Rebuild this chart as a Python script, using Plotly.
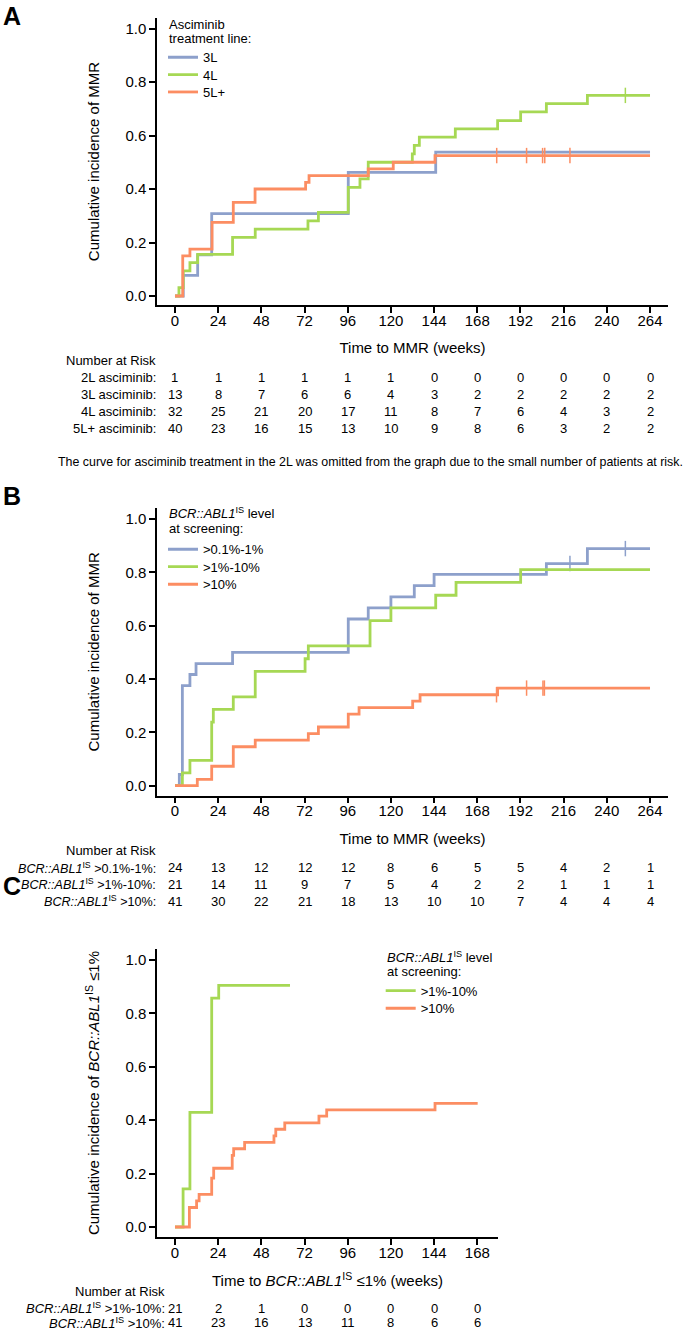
import plotly.graph_objects as go

FONT = "Arial, Liberation Sans, Helvetica, sans-serif"
W, H = 685, 1331
BLUE, GREEN, ORANGE = "#8DA0CB", "#A6D854", "#FC8D62"

# ---------------- Panel A: asciminib treatment line (time to MMR, weeks)
a_3l_t = [4.6, 12.6, 20.4, 96.3, 144.9]
a_3l_v = [0.077, 0.154, 0.308, 0.462, 0.538]
a_3l_cens = []
a_4l_t = [2.2, 4.6, 8.3, 12.6, 32.0, 44.6, 73.9, 79.7, 96.3, 102.8, 107.4,
          131.9, 133.0, 135.8, 155.8, 179.3, 192.1, 206.4, 229.2]
a_4l_v = [0.031, 0.094, 0.125, 0.156, 0.219, 0.25, 0.281, 0.313, 0.406, 0.438, 0.5,
          0.531, 0.563, 0.594, 0.625, 0.656, 0.688, 0.719, 0.75]
a_4l_cens = [250.3]
a_5l_t = [4.3, 8.3, 20.6, 32.4, 44.5, 72.6, 74.5, 107.4, 121.3, 144.5]
a_5l_v = [0.15, 0.175, 0.275, 0.35, 0.4, 0.425, 0.45, 0.475, 0.5, 0.525]
a_5l_cens = [178.8, 195.4, 204.3, 205.5, 219.5]
a_end = 264
a_ticks = [0, 24, 48, 72, 96, 120, 144, 168, 192, 216, 240, 264]
a_risk_labels = ["2L asciminib:", "3L asciminib:", "4L asciminib:", "5L+ asciminib:"]
a_risk = [
    [1, 1, 1, 1, 1, 1, 0, 0, 0, 0, 0, 0],
    [13, 8, 7, 6, 6, 4, 3, 2, 2, 2, 2, 2],
    [32, 25, 21, 20, 17, 11, 8, 7, 6, 4, 3, 2],
    [40, 23, 16, 15, 13, 10, 9, 8, 6, 3, 2, 2],
]

# ---------------- Panel B: BCR::ABL1 level at screening (time to MMR, weeks)
b_low_t = [2.4, 4.1, 8.3, 11.7, 32.0, 96.3, 107.4, 120.0, 133.0, 144.0, 206.4, 229.2]
b_low_v = [0.042, 0.375, 0.417, 0.458, 0.5, 0.625, 0.667, 0.708, 0.75, 0.792, 0.833, 0.889]
b_low_cens = [219.5, 250.3]
b_mid_t = [4.1, 8.3, 20.4, 21.3, 32.4, 44.6, 72.3, 74.1, 108.4, 120.0, 144.9, 156.2, 192.1]
b_mid_v = [0.048, 0.095, 0.238, 0.286, 0.333, 0.429, 0.476, 0.524, 0.619, 0.667, 0.714, 0.762, 0.81]
b_mid_cens = []
b_high_t = [12.4, 20.4, 32.4, 44.6, 74.1, 79.7, 96.3, 102.3, 132.1, 136.2, 179.3]
b_high_v = [0.024, 0.073, 0.146, 0.171, 0.195, 0.22, 0.268, 0.293, 0.317, 0.341, 0.366]
b_high_cens = [178.7, 195.4, 204.5, 205.3]
b_end = 264
b_ticks = a_ticks
b_risk_labels = ["<i>BCR::ABL1</i><sup>IS</sup> >0.1%-1%:",
                 "<i>BCR::ABL1</i><sup>IS</sup> >1%-10%:",
                 "<i>BCR::ABL1</i><sup>IS</sup> >10%:"]
b_risk = [
    [24, 13, 12, 12, 12, 8, 6, 5, 5, 4, 2, 1],
    [21, 14, 11, 9, 7, 5, 4, 2, 2, 1, 1, 1],
    [41, 30, 22, 21, 18, 13, 10, 10, 7, 4, 4, 4],
]

# ---------------- Panel C: time to BCR::ABL1 <= 1% (weeks)
c_mid_t = [4.5, 8.3, 20.4, 24.3]
c_mid_v = [0.143, 0.429, 0.857, 0.905]
c_mid_end = 63.9
c_high_t = [8.0, 12.0, 13.4, 20.4, 21.5, 31.8, 32.6, 38.7, 55.0, 56.0, 61.0, 80.0, 84.3, 144.5]
c_high_v = [0.073, 0.098, 0.122, 0.183, 0.22, 0.268, 0.293, 0.317, 0.341, 0.366, 0.39, 0.415, 0.439, 0.463]
c_high_end = 168.2
c_ticks = [0, 24, 48, 72, 96, 120, 144, 168]
c_risk_labels = ["<i>BCR::ABL1</i><sup>IS</sup> >1%-10%:",
                 "<i>BCR::ABL1</i><sup>IS</sup> >10%:"]
c_risk = [
    [21, 2, 1, 0, 0, 0, 0, 0],
    [41, 23, 16, 13, 11, 8, 6, 6],
]

y_ticks = [0.0, 0.2, 0.4, 0.6, 0.8, 1.0]


def px_x(p):
    return p / W


def px_y(p):
    return 1 - p / H


def value_at(t, v, c):
    val = 0
    for ti, vi in zip(t, v):
        if ti <= c:
            val = vi
    return val


fig = go.Figure()

series = [
    # name, times, values, end, censor, color, xaxis, yaxis, legend, (line start px, center px)
    ("3L", a_3l_t, a_3l_v, a_end, a_3l_cens, BLUE, "x", "y", "legend", (168, 57.3)),
    ("4L", a_4l_t, a_4l_v, a_end, a_4l_cens, GREEN, "x", "y", "legend2", (168, 74.7)),
    ("5L+", a_5l_t, a_5l_v, a_end, a_5l_cens, ORANGE, "x", "y", "legend3", (168, 92.0)),
    (">0.1%-1%", b_low_t, b_low_v, b_end, b_low_cens, BLUE, "x2", "y2", "legend4", (168, 549.3)),
    (">1%-10%", b_mid_t, b_mid_v, b_end, b_mid_cens, GREEN, "x2", "y2", "legend5", (168, 566.7)),
    (">10%", b_high_t, b_high_v, b_end, b_high_cens, ORANGE, "x2", "y2", "legend6", (168, 584.3)),
    (">1%-10%", c_mid_t, c_mid_v, c_mid_end, [], GREEN, "x3", "y3", "legend7", (385.7, 990.7)),
    (">10%", c_high_t, c_high_v, c_high_end, [], ORANGE, "x3", "y3", "legend8", (385.7, 1008.3)),
]

legend_layouts = {}
for name, t, v, end, cens, color, xa, ya, lg, (lx, ly) in series:
    xs = [0] + list(t) + [end]
    ys = [0] + list(v) + [v[-1]]
    fig.add_trace(go.Scatter(
        x=xs, y=ys, mode="lines", line=dict(color=color, width=2.8, shape="hv"),
        name=name, xaxis=xa, yaxis=ya, legend=lg, showlegend=True,
    ))
    if cens:
        fig.add_trace(go.Scatter(
            x=cens, y=[value_at(t, v, c) for c in cens], mode="markers",
            marker=dict(symbol="line-ns-open", size=11, color=color,
                        line=dict(color=color, width=1.5)),
            xaxis=xa, yaxis=ya, showlegend=False, hoverinfo="skip",
        ))
    legend_layouts[lg] = dict(
        x=px_x(lx - 5), y=px_y(ly), xanchor="left", yanchor="middle",
        bgcolor="rgba(0,0,0,0)", borderwidth=0, itemwidth=30,
        font=dict(family=FONT, size=13, color="black"),
    )

axis_common = dict(
    showline=True, linecolor="black", linewidth=1.5, ticks="outside", ticklen=6,
    tickwidth=1.5, tickcolor="black", showgrid=False, zeroline=False, automargin=False,
    tickfont=dict(family=FONT, size=15, color="black"), mirror=False,
)
x_common = dict(axis_common, ticklabelstandoff=-5)
title_font = dict(family=FONT, size=15, color="black")

layout = dict(
    width=W, height=H, autosize=False,
    margin=dict(l=0, r=0, t=0, b=0),
    paper_bgcolor="white", plot_bgcolor="white",
    font=dict(family=FONT, color="black"),
    xaxis=dict(x_common, domain=[px_x(157), px_x(668)], range=[-10, 274.0],
               tickvals=a_ticks, anchor="y",
               title=dict(text="Time to MMR (weeks)", font=title_font, standoff=15)),
    yaxis=dict(axis_common, domain=[px_y(305), px_y(18)], range=[-0.0336, 1.0393],
               tickvals=y_ticks, tickformat=".1f", anchor="x",
               title=dict(text="Cumulative incidence of MMR", font=title_font, standoff=22)),
    xaxis2=dict(x_common, domain=[px_x(157), px_x(668)], range=[-10, 274.0],
                tickvals=b_ticks, anchor="y2",
                title=dict(text="Time to MMR (weeks)", font=title_font, standoff=15)),
    yaxis2=dict(axis_common, domain=[px_y(795.7), px_y(508)], range=[-0.0375, 1.0412],
                tickvals=y_ticks, tickformat=".1f", anchor="x2",
                title=dict(text="Cumulative incidence of MMR", font=title_font, standoff=22)),
    xaxis3=dict(x_common, domain=[px_x(157), px_x(498)], range=[-10, 179.5],
                tickvals=c_ticks, anchor="y3",
                title=dict(text="Time to <i>BCR::ABL1</i><sup>IS</sup> ≤1% (weeks)",
                           font=title_font, standoff=16)),
    yaxis3=dict(axis_common, domain=[px_y(1237), px_y(949)], range=[-0.0375, 1.0412],
                tickvals=y_ticks, tickformat=".1f", anchor="x3",
                title=dict(text="Cumulative incidence of <i>BCR::ABL1</i><sup>IS</sup> ≤1%",
                           font=title_font, standoff=22)),
)
layout.update(legend_layouts)
fig.update_layout(**layout)

ann = []


def text(x, y, s, size=13, xanchor="left", xref="paper", bold=False):
    ann.append(dict(
        x=x, y=px_y(y), xref=xref, yref="paper", text=(f"<b>{s}</b>" if bold else s),
        showarrow=False, xanchor=xanchor, yanchor="middle",
        font=dict(family=FONT, size=size, color="black"),
    ))


# panel letters
text(px_x(1), 16, "A", size=25, bold=True)
text(px_x(1), 496, "B", size=25, bold=True)
text(px_x(1), 886, "C", size=25, bold=True)

# legend titles
text(px_x(167), 24, "Asciminib")
text(px_x(167), 38.7, "treatment line:")
text(px_x(167), 513.3, "<i>BCR::ABL1</i><sup>IS</sup> level")
text(px_x(167), 529, "at screening:")
text(px_x(384.7), 956.7, "<i>BCR::ABL1</i><sup>IS</sup> level")
text(px_x(384.7), 971.7, "at screening:")


def risk_table(header_y, row_ys, labels, rows, ticks, xref, label_x, size=13):
    text(px_x(label_x), header_y, "Number at Risk", xanchor="right")
    for ry, lab, vals in zip(row_ys, labels, rows):
        text(px_x(label_x), ry, lab, xanchor="right", size=size)
        for tk, n in zip(ticks, vals):
            ann.append(dict(
                x=tk, y=px_y(ry), xref=xref, yref="paper", text=str(n), showarrow=False,
                xanchor="center", yanchor="middle",
                font=dict(family=FONT, size=13, color="black"),
            ))


risk_table(360.7, [377.3, 394.0, 411.0, 428.3], a_risk_labels, a_risk, a_ticks, "x", 158)
risk_table(850.7, [867.7, 884.4, 901.0], b_risk_labels, b_risk, b_ticks, "x2", 158, size=12.6)
risk_table(1291.5, [1308.3, 1322.8], c_risk_labels, c_risk, c_ticks, "x3", 167)

text(px_x(56), 462.3,
     "The curve for asciminib treatment in the 2L was omitted from the graph due to "
     "the small number of patients at risk.", size=12.4)

fig.update_layout(annotations=ann)
fig.write_html("out.html", config={"displayModeBar": False},
               post_script="document.body.style.margin='0';")
